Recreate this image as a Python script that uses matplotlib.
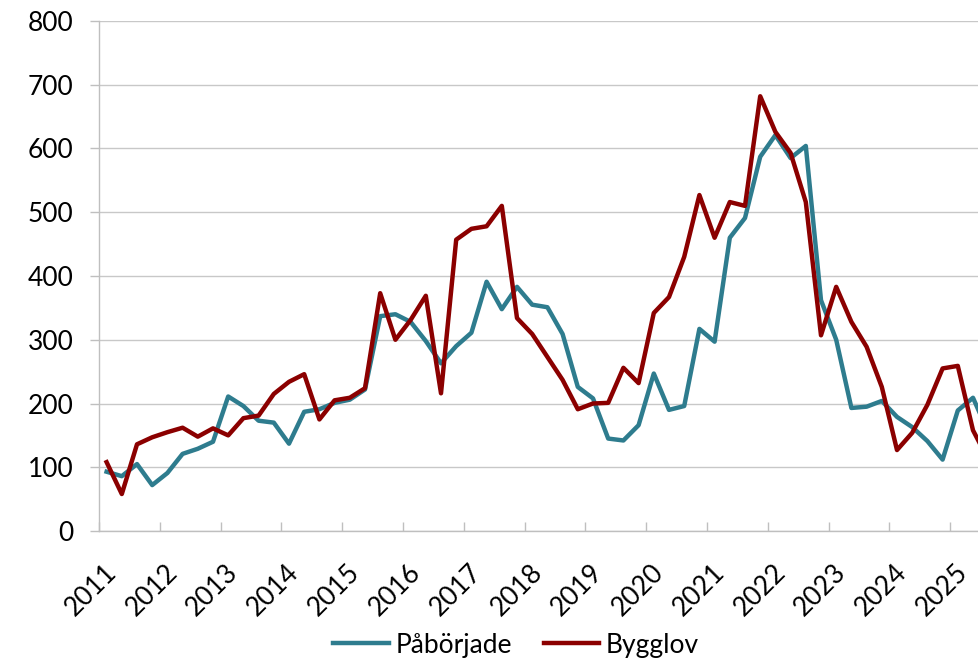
import matplotlib
matplotlib.use('Agg')
import matplotlib.pyplot as plt
from matplotlib.transforms import ScaledTranslation

# kvartalsdata 2011 Q1 - 2025 Q3
years = [str(y) for y in range(2011, 2026)]
paborjade = [93, 86, 105, 72,
             91, 121, 129, 140,
             211, 196, 173, 170,
             137, 187, 191, 201,
             206, 222, 337, 340,
             328, 298, 263, 290,
             311, 391, 348, 383,
             355, 351, 309, 226,
             208, 145, 142, 166,
             247, 190, 196, 317,
             297, 460, 491, 587,
             621, 585, 604, 362,
             300, 193, 195, 204,
             179, 163, 141, 112,
             189, 209, 155]
bygglov = [108, 58, 136, 147,
           155, 162, 148, 161,
           150, 177, 181, 215,
           234, 246, 175, 205,
           209, 224, 373, 300,
           331, 369, 216, 457,
           474, 478, 510, 334,
           309, 273, 237, 191,
           200, 201, 256, 232,
           342, 367, 430, 527,
           460, 516, 510, 682,
           626, 593, 516, 307,
           383, 328, 289, 226,
           127, 154, 198, 255,
           259, 158, 112]

plt.rcParams['font.family'] = ['Lato', 'DejaVu Sans']

fig = plt.figure(figsize=(9.79, 6.6), dpi=100)
ax = fig.add_axes([99/979, 1 - 531/660, 1 - 99/979, (531 - 21)/660])

x = list(range(len(paborjade)))
ax.plot(x, paborjade, color='#2E7C8E', lw=3.2, label='Påbörjade', solid_joinstyle='round')
ax.plot(x, bygglov, color='#8B0000', lw=3.2, label='Bygglov', solid_joinstyle='round')

ax.set_yticks(range(0, 801, 100))

# etiketter vid varje års första kvartal, streck mellan åren
ax.set_xticks(range(0, 4 * len(years), 4))
ax.set_xticklabels(years, rotation=45, ha='right', va='center', rotation_mode='anchor')
ax.set_xticks([i - 0.5 for i in range(0, 4 * len(years) + 1, 4)], minor=True)
ax.tick_params(axis='x', which='major', length=0, pad=27, labelsize=19)
ax.tick_params(axis='x', which='minor', direction='in', length=6.5, color='#BFBFBF', width=1)
ax.tick_params(axis='y', direction='out', length=6.5, color='#BFBFBF', width=1, pad=12, labelsize=19)

# flytta årsetiketterna lite åt höger
offset = ScaledTranslation(6/100, 0, fig.dpi_scale_trans)
for lbl in ax.get_xticklabels():
    lbl.set_transform(lbl.get_transform() + offset)

# gränser sätts efter ticks (set_xticks kan annars vidga dem)
ax.set_ylim(0, 800)
ax.set_xlim(-0.5, (979 - 106.6) / 15.2)

ax.grid(axis='y', color='#C8C8C8', lw=1)
ax.set_axisbelow(True)
ax.spines['top'].set_visible(False)
ax.spines['right'].set_visible(False)
for s in ['left', 'bottom']:
    ax.spines[s].set_color('#BFBFBF')
    ax.spines[s].set_linewidth(1)

fig.legend(loc='center', bbox_to_anchor=(516/979, 1 - 645/660), ncol=2, frameon=False,
           fontsize=19, handlelength=2.1, handletextpad=0.25, columnspacing=1.2)

fig.savefig('out.png', dpi=100)
